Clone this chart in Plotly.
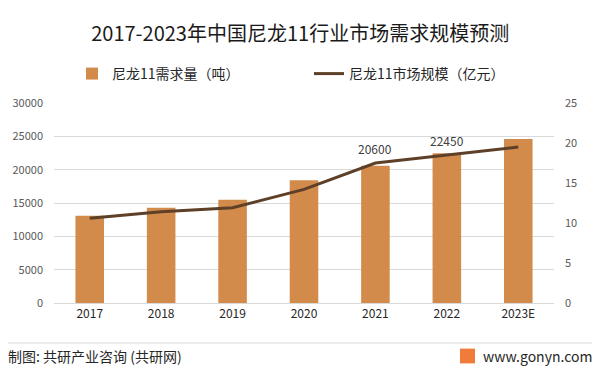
import plotly.graph_objects as go

years = ["2017", "2018", "2019", "2020", "2021", "2022", "2023E"]
demand_tons = [13100, 14300, 15500, 18400, 20600, 22450, 24600]
market_size = [10.6, 11.4, 11.9, 14.2, 17.5, 18.5, 19.5]
labelled_years = ["2021", "2022"]
labelled_values = ["20600", "22450"]

FONT = "Noto Sans CJK SC, Noto Sans, sans-serif"
BAR_COLOR = "#D38B4C"
LINE_COLOR = "#5E4028"
TICK_COLOR = "#595959"

fig = go.Figure()
fig.add_trace(go.Bar(
    x=years, y=demand_tons, name="尼龙11需求量（吨）",
    marker=dict(color=BAR_COLOR, line=dict(width=0)),
    width=0.4, yaxis="y",
))
fig.add_trace(go.Scatter(
    x=years, y=market_size, name="尼龙11市场规模（亿元）",
    mode="lines", line=dict(color=LINE_COLOR, width=3),
    yaxis="y2",
))
for yr, txt in zip(labelled_years, labelled_values):
    i = years.index(yr)
    fig.add_annotation(
        x=i, y=market_size[i], xref="x", yref="y2", text=txt,
        showarrow=False, yanchor="bottom", yshift=4,
        font=dict(family=FONT, size=12, color="#404040"),
    )

# footer
fig.add_shape(type="line", xref="paper", yref="paper",
              x0=-0.098, x1=1.1, y0=-0.2, y1=-0.2,
              line=dict(color="#D9D9D9", width=1))
fig.add_annotation(xref="paper", yref="paper", x=-0.096, y=-0.265,
                   xanchor="left", yanchor="middle", showarrow=False,
                   text="制图: 共研产业咨询 (共研网)",
                   font=dict(family=FONT, size=14, color="#262626"))
fig.add_annotation(xref="paper", yref="paper", x=1.08, y=-0.265,
                   xanchor="right", yanchor="middle", showarrow=False,
                   text="www.gonyn.com",
                   font=dict(family=FONT, size=14, color="#262626"))
fig.add_shape(type="rect", xref="paper", yref="paper",
              x0=0.812, x1=0.842, y0=-0.302, y1=-0.228,
              fillcolor="#F07C3C", line=dict(width=0))

fig.update_layout(
    width=600, height=375,
    margin=dict(l=46, r=54, t=95, b=80, autoexpand=False),
    paper_bgcolor="white", plot_bgcolor="white",
    title=dict(text="2017-2023年中国尼龙11行业市场需求规模预测",
               x=0.487, xanchor="center", y=0.931, yanchor="middle",
               font=dict(family=FONT, size=20, color="#1a1a1a")),
    font=dict(family=FONT, size=11, color=TICK_COLOR),
    legend=dict(orientation="h", x=0.51, xanchor="center", y=1.145, yanchor="middle",
                font=dict(family=FONT, size=14, color="#262626"),
                entrywidth=192, entrywidthmode="pixels",
                bgcolor="rgba(0,0,0,0)"),
    xaxis=dict(type="category", showgrid=False, showline=False, ticks="",
               tickfont=dict(family=FONT, size=12, color="#262626"),
               ticklabelstandoff=2, zeroline=False, automargin=False),
    yaxis=dict(range=[0, 30000], dtick=5000, tickformat="d", showgrid=True,
               gridcolor="#D9D9D9", gridwidth=1, zeroline=True,
               zerolinecolor="#D9D9D9", zerolinewidth=1, automargin=False,
               showline=False, ticks="", ticklabelstandoff=10,
               tickfont=dict(family=FONT, size=11, color=TICK_COLOR)),
    yaxis2=dict(range=[0, 25], dtick=5, overlaying="y", side="right",
                showgrid=False, zeroline=False, showline=False, ticks="",
                ticklabelstandoff=10, automargin=False,
                tickfont=dict(family=FONT, size=11, color=TICK_COLOR)),
)

fig.write_html("out.html")
